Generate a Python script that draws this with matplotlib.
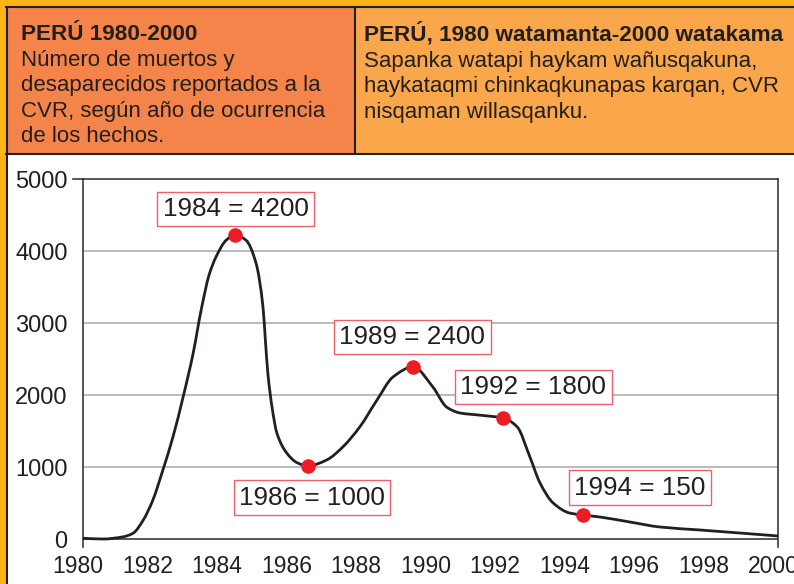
import matplotlib
matplotlib.use("Agg")
import numpy as np
import matplotlib.pyplot as plt
from matplotlib.patches import Rectangle, PathPatch
from matplotlib.path import Path
from matplotlib.transforms import ScaledTranslation, blended_transform_factory

plt.rcParams['font.family'] = ['Liberation Sans', 'DejaVu Sans']

# ---- data ----
years = [1980.00, 1980.58, 1981.15, 1981.44, 1981.73, 1982.01, 1982.30, 1982.59,
         1982.88, 1983.17, 1983.40, 1983.63, 1983.83, 1984.12, 1984.37, 1984.69,
         1984.98, 1985.18, 1985.25, 1985.32, 1985.44, 1985.58, 1985.87, 1986.16,
         1986.47, 1987.02, 1987.48, 1987.97, 1988.46, 1988.92, 1989.50, 1990.07,
         1990.47, 1990.85, 1991.42, 1992.09, 1992.49, 1992.86, 1993.15, 1993.53,
         1994.01, 1994.39, 1994.88, 1995.74, 1996.60, 1997.76, 1998.91, 2000.00]
values = [10, 0, 30, 80, 260, 540, 960, 1420,
          1970, 2580, 3180, 3670, 3920, 4150, 4222, 4150,
          3830, 3220, 2750, 2300, 1830, 1470, 1190, 1060,
          1014, 1100, 1280, 1560, 1930, 2250, 2390, 2110,
          1830, 1750, 1720, 1680, 1560, 1140, 780, 500,
          360, 333, 305, 236, 167, 125, 83, 42]

marker_years = [1984.37, 1986.47, 1989.50, 1992.09, 1994.39]
marker_values = [4222, 1014, 2390, 1680, 333]
marker_labels = ["1984 = 4200", "1986 = 1000", "1989 = 2400", "1992 = 1800", "1994 = 150"]
label_x = [1984.39, 1986.59, 1989.48, 1992.96, 1996.03]
label_y = [4583, 576, 2806, 2111, 715]

yticks = [0, 1000, 2000, 3000, 4000, 5000]
xticks = list(range(1980, 2001, 2))

title_es = "PERÚ 1980-2000"
body_es = ["Número de muertos y", "desaparecidos reportados a la",
           "CVR, según año de ocurrencia", "de los hechos."]
title_qu = "PERÚ, 1980 watamanta-2000 watakama"
body_qu = ["Sapanka watapi haykam wañusqakuna,",
           "haykataqmi chinkaqkunapas karqan, CVR",
           "nisqaman willasqanku."]

# ---- colours ----
GOLD = "#FDB515"
ORANGE_L = "#F4844A"
ORANGE_R = "#F9A74A"
DARK = "#231F20"
RED = "#ED1C24"
BOXRED = "#F0606C"


def smooth_path(xs, ys):
    """Monotone cubic Bezier path through the traced points (drawing only)."""
    x = np.asarray(xs, float)
    y = np.asarray(ys, float)
    h = np.diff(x)
    d = np.diff(y) / h
    n = len(x)
    m = np.zeros(n)
    m[0], m[-1] = d[0], d[-1]
    for k in range(1, n - 1):
        if d[k - 1] * d[k] <= 0:
            m[k] = 0.0
        else:
            w1 = 2 * h[k] + h[k - 1]
            w2 = h[k] + 2 * h[k - 1]
            m[k] = (w1 + w2) / (w1 / d[k - 1] + w2 / d[k])
    verts = [(x[0], y[0])]
    codes = [Path.MOVETO]
    for k in range(n - 1):
        verts += [(x[k] + h[k] / 3, y[k] + m[k] * h[k] / 3),
                  (x[k + 1] - h[k] / 3, y[k + 1] - m[k + 1] * h[k] / 3),
                  (x[k + 1], y[k + 1])]
        codes += [Path.CURVE4] * 3
    return Path(verts, codes)


W, H = 794, 584
fig = plt.figure(figsize=(W / 100, H / 100), dpi=100)

# background / frame axes in pixel coordinates
bg = fig.add_axes([0, 0, 1, 1], zorder=0)
bg.set_xlim(0, W)
bg.set_ylim(H, 0)
bg.axis("off")
bg.add_patch(Rectangle((0, 0), W, H, color=GOLD, lw=0))
bg.add_patch(Rectangle((7, 154), W - 7, H - 154, color="white", lw=0))
bg.add_patch(Rectangle((7, 7), 348, 147, color=ORANGE_L, lw=0))
bg.add_patch(Rectangle((355, 7), W - 355, 147, color=ORANGE_R, lw=0))
lw = 1.5
bg.plot([6, W], [7, 7], color=DARK, lw=lw)
bg.plot([6, W], [154, 154], color=DARK, lw=lw)
bg.plot([7, 7], [7, H], color=DARK, lw=lw)
bg.plot([355, 355], [7, 154], color=DARK, lw=lw)

bg.text(21, 40, title_es, fontsize=16.2, fontweight="bold", color=DARK, va="baseline")
for i, line in enumerate(body_es):
    bg.text(21, 66 + i * 25.3, line, fontsize=16.0, color=DARK, va="baseline")
bg.text(364, 41, title_qu, fontsize=16.2, fontweight="bold", color=DARK, va="baseline")
for i, line in enumerate(body_qu):
    bg.text(364, 67 + i * 25.3, line, fontsize=16.0, color=DARK, va="baseline")

# main chart axes
left, right = 83 / W, 778 / W
top, bottom = 1 - 179 / H, 1 - 547 / H
ax = fig.add_axes([left, bottom, right - left, top - bottom], zorder=1)
ax.patch.set_alpha(0)
ax.set_xlim(1980, 2000)
ax.set_ylim(-111, 5000)

for y in yticks[1:-1]:
    ax.axhline(y, color="#B5B5B5", lw=1.3, zorder=1)
ax.axhline(0, color="#3A3A3A", lw=1.2, zorder=2)
for side in ["left", "right", "top"]:
    ax.spines[side].set_color("#3A3A3A")
    ax.spines[side].set_linewidth(1.2)
ax.spines["bottom"].set_visible(False)
trans = blended_transform_factory(ax.transAxes, ax.transData)
ax.plot([-0.0145, 0], [5000, 5000], color="#3A3A3A", lw=1.2,
        transform=trans, clip_on=False)

ax.add_patch(PathPatch(smooth_path(years, values), facecolor="none",
                       edgecolor=DARK, lw=2.0, zorder=3, capstyle="round"))
ax.plot(marker_years, marker_values, "o", color=RED, ms=10.5, zorder=4,
        markeredgewidth=0)

for lx, ly, txt in zip(label_x, label_y, marker_labels):
    ax.text(lx, ly, txt, fontsize=18.8, color=DARK, ha="center", va="center",
            zorder=5,
            bbox=dict(boxstyle="square,pad=0.2", facecolor="white",
                      edgecolor=BOXRED, lw=1.0))

ax.set_yticks(yticks)
ax.set_yticklabels([str(v) for v in yticks])
ax.set_xticks(xticks)
ax.set_xticklabels([str(v) for v in xticks])
ax.tick_params(axis="y", length=0, pad=11, labelsize=17, labelcolor=DARK)
ax.tick_params(axis="x", length=0, pad=6, labelsize=16.5, labelcolor=DARK)
offset = ScaledTranslation(-5 / 100, 0, fig.dpi_scale_trans)
for lab in ax.get_xticklabels():
    lab.set_transform(lab.get_transform() + offset)

fig.savefig("out.png", dpi=100)
